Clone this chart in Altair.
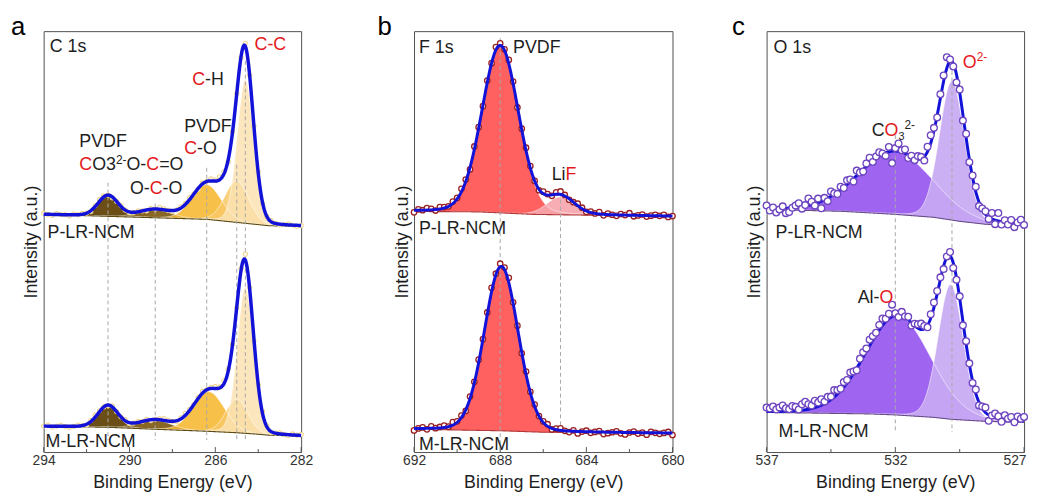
import numpy as np
import pandas as pd
import altair as alt

FONT = "Liberation Sans"
RED = "#E3191E"
INK = "#1E1E1E"
ENV = "#1212D8"
H = 425

# ---------------- panel a : C 1s ----------------
a_domain = [282, 294]
a_ticks = [294, 290, 286, 282]
a_minor = [292, 288, 284]
a_grid = [294.0, 282.0, 0.2]
a_colors = ["#634508", "#7E5A12", "#F5B730", "#F8C865", "#FCE2B2"]

a_top_base_E = [294, 291, 286.4, 284.6, 283.5, 282]
a_top_base_I = [240, 238, 235, 231, 228.5, 228]
a_top_center = [291.0, 288.8, 286.4, 285.0, 284.6]
a_top_height = [21, 8, 35, 42, 145]
a_top_fwhm = [1.1, 1.8, 1.6, 1.3, 0.9]
a_top_resid = [1, 0, -1, 1, 0, 0, -1, 1, 0, 1,
               0, -1, 1, 2, 1, 0, -1, 0, 1, 0,
               -1, 0, 1, 0, -1, 1, 0, 2, 1, 0,
               -1, 0, 1, 1, 2, 0, -1, 1, 0, 2,
               1, 3, 2, -2, 1, 0, -1, 3, 0, 0,
               1, -1, 0, 1, 0, -1, 0, 1, 0, -1,
               0]

a_bot_base_E = [294, 291, 288.8, 286.4, 285, 284, 283.5, 282]
a_bot_base_I = [26, 25, 23, 21, 19.5, 18, 17, 16]
a_bot_center = [291.0, 288.8, 286.3, 285.0, 284.6]
a_bot_height = [22, 9, 40, 34, 147]
a_bot_fwhm = [1.1, 1.8, 1.7, 1.2, 0.9]
a_bot_resid = [0, 1, -1, 0, 1, 0, -1, 0, 1, 0,
               -1, 1, 2, 1, 0, -1, 1, 0, 0, 1,
               -1, 0, 1, 0, 1, -1, 0, 1, 2, 1,
               0, -1, 1, 2, 1, 0, 1, 2, 0, 1,
               2, 1, 3, 2, 1, -1, 2, 6, 1, -2,
               0, 2, 1, -1, 0, 1, 0, -1, 1, 0,
               1]

a_dash_E = [291.0, 288.8, 286.4, 285.0, 284.6]
a_dash_top = [272, 251, 287, 290, 395]
a_dash_bot = [12, 12, 12, 12, 12]

# ---------------- panel b : F 1s ----------------
b_domain = [680, 692]
b_ticks = [692, 688, 684, 680]
b_minor = [690, 686, 682]
b_grid = [692.0, 680.0, 0.2]
b_colors = ["#FF5858", "#F6A6AC"]

b_top_base_E = [692, 689, 688, 686.5, 685, 680]
b_top_base_I = [243, 242.5, 241.5, 240, 239.5, 238]
b_top_center = [688.0, 685.2]
b_top_height = [169, 18]
b_top_fwhm = [2.0, 1.5]
b_top_resid = [-2, 1, 0, 2, 1, -1, 2, 1, 0, 2,
               1, 3, 2, -2, 3, 1, -1, 2, 0, 3,
               2, 1, 4, 2, -1, 1, 3, 2, 0, -1,
               2, 1, -1, 2, 3, 1, -1, 0, 2, 1,
               -1, 1, 0, 2, -1, 1, 0, -1, 1, 0,
               2, -1, 0, 1, -1, 0, 1, 0, 1, -1,
               0]

b_bot_base_E = [692, 688, 686, 680]
b_bot_base_I = [23, 21.5, 20, 19]
b_bot_center = [687.95]
b_bot_height = [166]
b_bot_fwhm = [1.85]
b_bot_resid = [-2, 0, 1, -1, 2, 0, 1, 2, 0, 3,
               1, 2, -1, 2, 1, 3, 0, 2, 4, 1,
               3, 2, 5, 1, 2, -1, 3, 1, 2, 0,
               1, 2, -1, 1, 2, 0, -1, 1, -2, 0,
               1, -1, 0, 1, -2, -1, 0, 1, -1, -2,
               0, 1, -1, 0, -2, 1, 0, -1, 0, 1,
               -2]

b_dash_E = [688.0, 685.2]
b_dash_top = [418, 262]
b_dash_bot = [6, 23]

# ---------------- panel c : O 1s ----------------
c_domain = [527, 537]
c_ticks = [537, 532, 527]
c_minor = [534.5, 529.5]
c_grid = [537.0, 527.0, 0.125]
c_colors = ["#9B5DEF", "#C8A9F3"]

c_top_base_E = [537, 534, 532, 530.5, 529.5, 528.5, 527]
c_top_base_I = [245, 243, 240, 237, 233, 230, 229]
c_top_center = [532.0, 529.8]
c_top_height = [63, 140]
c_top_fwhm = [3.4, 1.15]
c_top_resid = [3, -2, 1, -4, -1, 2, -5, -4, 0, 2, 4, -2,
               1, 7, 3, -2, 4, -7, 2, -3, 5, 1, -2, 3,
               -1, 4, 2, -3, 5, 0, -2, 3, 6, -1, 2, 4,
               1, -3, 5, -12, 3, 8, 2, 4, -3, 1, -2, 3,
               2, -4, 5, 8, 3, -2, 4, 6, 11, 2, -3, -8,
               3, -6, 4, -3, 2, 5, -4, 1, 3, -2, 6, -4,
               8, -3, 2, -2, 3, -4, 1, 4, -1]

c_bot_base_E = [537, 533, 532, 530.5, 529.8, 528.5, 527]
c_bot_base_I = [40, 38.5, 37.5, 35, 33, 31, 30]
c_bot_center = [531.9, 529.85]
c_bot_height = [100, 136]
c_bot_fwhm = [3.0, 1.15]
c_bot_resid = [4, 3, 5, 2, 4, 6, 3, 2, 5, 4, 1, 6,
               8, 5, 3, 7, 4, 6, 2, 5, 3, 7, 4, 2,
               5, 3, 6, 2, -2, 4, 5, 3, 6, 4, 2, 5,
               7, 3, 5, 12, 2, -2, 4, 1, 3, -3, 2, 4,
               6, 3, -2, 4, 5, 3, 2, -3, 1, 4, -5, -2,
               2, -4, 3, 1, -2, 4, -3, 2, 5, -6, 1, 4,
               2, -3, 4, 1, 3, -2, 4, 2, 4]

c_dash_E = [532.0, 529.8]
c_dash_top = [320, 385]
c_dash_bot = [20, 20]

# ---------------- annotations (anchor energy, intensity, segments) ----------------
a_notes = [
    (293.72, 404, [("C 1s", INK, 18, 0)]),
    (284.17, 406, [("C-C", RED, 18, 0)]),
    (287.08, 371, [("C", RED, 18, 0), ("-H", INK, 18, 0)]),
    (287.45, 323, [("PVDF", INK, 18, 0)]),
    (287.45, 301, [("C", RED, 18, 0), ("-O", INK, 18, 0)]),
    (292.34, 308, [("PVDF", INK, 18, 0)]),
    (292.34, 285, [("C", RED, 18, 0), ("O3", INK, 18, 0), ("2-", INK, 12, 6),
                   ("O-", INK, 18, 0), ("C", RED, 18, 0), ("=O", INK, 18, 0)]),
    (289.98, 261, [("O-", INK, 18, 0), ("C", RED, 18, 0), ("-O", INK, 18, 0)]),
    (293.82, 216, [("P-LR-NCM", INK, 18, 0)]),
    (293.91, 5, [("M-LR-NCM", INK, 18, 0)]),
]
b_notes = [
    (691.77, 403, [("F 1s", INK, 18, 0)]),
    (687.40, 403, [("PVDF", INK, 18, 0)]),
    (685.61, 275, [("Li", INK, 18, 0), ("F", RED, 18, 0)]),
    (691.77, 220, [("P-LR-NCM", INK, 18, 0)]),
    (691.77, 2, [("M-LR-NCM", INK, 18, 0)]),
]
c_notes = [
    (536.73, 403, [("O 1s", INK, 18, 0)]),
    (532.92, 319, [("C", INK, 18, 0), ("O", RED, 18, 0), ("3", INK, 11, -4), ("2-", INK, 12, 7)]),
    (529.38, 388, [("O", RED, 18, 0), ("2-", RED, 12, 7)]),
    (536.65, 216, [("P-LR-NCM", INK, 18, 0)]),
    (533.46, 150, [("Al-", INK, 18, 0), ("O", RED, 18, 0)]),
    (536.54, 15, [("M-LR-NCM", INK, 18, 0)]),
]

CW = {'C': .722, 'O': .778, '-': .333, 'H': .722, '=': .584, '3': .556, '2': .556,
      'P': .667, 'V': .667, 'D': .722, 'F': .611, 'L': .556, 'i': .222, 'A': .667,
      'l': .222, 'R': .722, 'N': .722, 'M': .833, ' ': .278, '1': .556, 's': .5}


def pv(E, c, h, w, eta=0.1):
    u = (E - c) / w
    return h * ((1 - eta) * np.exp(-4 * np.log(2) * u * u) + eta / (1 + 4 * u * u))


def base(E, bE, bI):
    o = np.argsort(bE)
    return np.interp(E, np.array(bE, float)[o], np.array(bI, float)[o])


def spectrum(bE, bI, cen, hts, fw, resid, grid):
    start, stop, step = grid
    fine = np.linspace(start, stop, 601)
    b = base(fine, bE, bI)
    comps = [pv(fine, c, h, w) for c, h, w in zip(cen, hts, fw)]
    env = b + np.sum(comps, axis=0)
    n = int(round((start - stop) / step)) + 1
    pts_E = start - step * np.arange(n)
    pb = base(pts_E, bE, bI)
    pe = pb + np.sum([pv(pts_E, c, h, w) for c, h, w in zip(cen, hts, fw)], axis=0)
    r = np.array(resid[:n] + [0] * max(0, n - len(resid)), float)
    return fine, b, comps, env, pts_E, pe + r


def note_rows(notes, ppe):
    rows = []
    for E0, I0, segs in notes:
        off = 0.0
        for t, col, sz, dy in segs:
            rows.append({"E": E0 - off / ppe, "I": I0 + dy, "t": t, "col": col, "sz": sz})
            off += sum(CW.get(ch, .556) for ch in t) * sz
    return pd.DataFrame(rows)


def panel(domain, width, ticks, minor, specs, colors, dash, notes, letter, letter_dx,
          pt_stroke, pt_size, pt_sw, env_w, base_col, pts_on_top, comp_op, last_flush=None):
    ppe = width / (domain[1] - domain[0])
    xs = alt.Scale(domain=domain, reverse=True, nice=False, zero=False)
    ys = alt.Scale(domain=[0, H], nice=False, zero=False)
    ax_kw = dict(values=ticks, format="d", ticks=False, labelPadding=2,
                 titlePadding=6, title="Binding Energy (eV)", labelFlush=False)
    if last_flush is not None:
        ax_kw["labelAlign"] = {"expr": "datum.value == %s ? 'right' : 'center'" % last_flush}
        ax_kw["labelOffset"] = {"expr": "datum.value == %s ? 2 : 0" % last_flush}
    xax = alt.Axis(**ax_kw)
    yax = alt.Axis(labels=False, ticks=False, title="Intensity (a.u.)", titlePadding=3)
    X = alt.X("E:Q", scale=xs, axis=xax)

    def Y(f):
        return alt.Y(f, type="quantitative", scale=ys, axis=yax)

    areas, outlines, bases, circles, envs = [], [], [], [], []
    for sp in specs:
        fine, b, comps, env, pE, pI = spectrum(*sp)
        for k, cmp in enumerate(comps):
            d = pd.DataFrame({"E": fine, "lo": b, "hi": b + cmp})
            areas.append(alt.Chart(d).mark_area(color=colors[k], opacity=comp_op[k], strokeWidth=0)
                         .encode(x=X, y=Y("hi"), y2="lo"))
            outlines.append(alt.Chart(d).mark_line(color="white", strokeWidth=0.8, opacity=0.7)
                            .encode(x=X, y=Y("hi")))
        bases.append(alt.Chart(pd.DataFrame({"E": fine, "I": b}))
                     .mark_line(color=base_col, strokeWidth=1.1).encode(x=X, y=Y("I")))
        circles.append(alt.Chart(pd.DataFrame({"E": pE, "I": pI}))
                       .mark_point(shape="circle", filled=True, fill="white", stroke=pt_stroke,
                                   strokeWidth=pt_sw, size=pt_size, opacity=1)
                       .encode(x=X, y=Y("I")))
        envs.append(alt.Chart(pd.DataFrame({"E": fine, "I": env}))
                    .mark_line(color=ENV, strokeWidth=env_w).encode(x=X, y=Y("I")))

    dE, dT, dB = dash
    dashes = alt.Chart(pd.DataFrame({"E": dE, "top": dT, "bot": dB})).mark_rule(
        color="#A8A8A8", strokeDash=[4, 3], strokeWidth=1).encode(x=X, y=Y("top"), y2="bot")

    txt = alt.Chart(note_rows(notes, ppe)).mark_text(align="left", baseline="alphabetic", font=FONT).encode(
        x=X, y=Y("I"), text="t:N", color=alt.Color("col:N", scale=None), size=alt.Size("sz:Q", scale=None))

    tmaj = alt.Chart(pd.DataFrame({"E": ticks})).mark_rule(color="#555555", strokeWidth=1).encode(
        x=X, y=alt.value(H), y2=alt.value(H - 5))
    tmin = alt.Chart(pd.DataFrame({"E": minor})).mark_rule(color="#555555", strokeWidth=1).encode(
        x=X, y=alt.value(H), y2=alt.value(H - 3))

    let = alt.Chart(pd.DataFrame({"t": [letter]})).mark_text(
        align="left", baseline="alphabetic", font=FONT, fontSize=26, color="#000000").encode(
        text="t:N", x=alt.value(letter_dx), y=alt.value(4))

    order = areas + outlines + bases + [dashes]
    order += (envs + circles) if pts_on_top else (circles + envs)
    order += [txt, tmaj, tmin, let]
    return alt.layer(*order).properties(width=width, height=H)


pa = panel(a_domain, 260, a_ticks, a_minor,
           [(a_top_base_E, a_top_base_I, a_top_center, a_top_height, a_top_fwhm, a_top_resid, a_grid),
            (a_bot_base_E, a_bot_base_I, a_bot_center, a_bot_height, a_bot_fwhm, a_bot_resid, a_grid)],
           a_colors, (a_dash_E, a_dash_top, a_dash_bot), a_notes, "a", -33,
           "#EFD48C", 18, 1.1, 3.5, "#5C4A12", False, [0.95, 0.92, 0.88, 0.85, 0.85])
pb = panel(b_domain, 261, b_ticks, b_minor,
           [(b_top_base_E, b_top_base_I, b_top_center, b_top_height, b_top_fwhm, b_top_resid, b_grid),
            (b_bot_base_E, b_bot_base_I, b_bot_center, b_bot_height, b_bot_fwhm, b_bot_resid, b_grid)],
           b_colors, (b_dash_E, b_dash_top, b_dash_bot), b_notes, "b", -37,
           "#9A2020", 30, 1.3, 3.0, "#B03A3A", False, [0.95, 0.92])
pc = panel(c_domain, 260, c_ticks, c_minor,
           [(c_top_base_E, c_top_base_I, c_top_center, c_top_height, c_top_fwhm, c_top_resid, c_grid),
            (c_bot_base_E, c_bot_base_I, c_bot_center, c_bot_height, c_bot_fwhm, c_bot_resid, c_grid)],
           c_colors, (c_dash_E, c_dash_top, c_dash_bot), c_notes, "c", -35,
           "#6E45C0", 46, 1.3, 3.0, "#6A4E8A", True, [0.95, 0.92], last_flush=527)

chart = alt.hconcat(alt.hconcat(pa, pb, spacing=63), pc, spacing=46).properties(
    padding={"left": 2, "top": 3, "right": 0, "bottom": 0}
).configure_view(stroke="#505050", strokeWidth=1).configure_axis(
    grid=False, domain=False, labelFont=FONT, titleFont=FONT, labelFontSize=14,
    titleFontSize=18, labelColor="#333333", titleColor="#1E1E1E", titleFontWeight="normal")

chart.save("out.html", embed_options={"renderer": "svg", "actions": False})
